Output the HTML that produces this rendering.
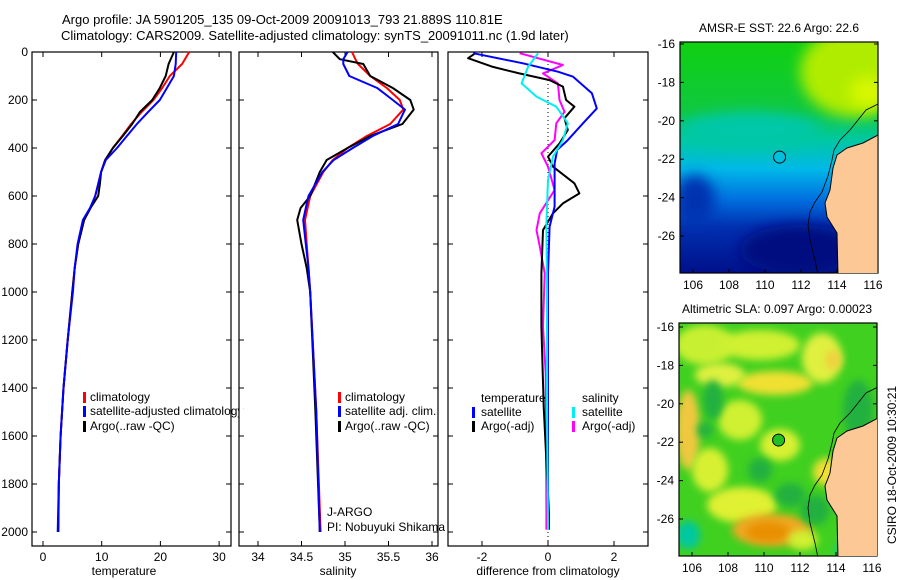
<!DOCTYPE html>
<html><head><meta charset="utf-8"><style>
html,body{margin:0;padding:0;background:#fff;}
svg{display:block;font-family:"Liberation Sans",sans-serif;}
text{font-size:12px;fill:#000;}
</style></head><body>
<svg id="fig" width="900" height="580" viewBox="0 0 900 580" xmlns="http://www.w3.org/2000/svg">
<defs>
<filter id="blur6" x="-50%" y="-50%" width="200%" height="200%"><feGaussianBlur stdDeviation="7"/></filter>
<filter id="blur3" x="-50%" y="-50%" width="200%" height="200%"><feGaussianBlur stdDeviation="4"/></filter>
<clipPath id="clipTop"><rect x="680" y="42" width="198" height="231"/></clipPath>
<clipPath id="clipBot"><rect x="679" y="323" width="198" height="233"/></clipPath>
<linearGradient id="sstGrad" x1="0" y1="0" x2="0" y2="1">
<stop offset="0" stop-color="#10d010"/><stop offset="0.3" stop-color="#10c840"/>
<stop offset="0.42" stop-color="#00c8a0"/><stop offset="0.55" stop-color="#00b8e8"/>
<stop offset="0.68" stop-color="#0070e0"/><stop offset="0.8" stop-color="#0030b0"/>
<stop offset="1" stop-color="#00108a"/></linearGradient>
</defs>
<text x="62" y="24" style="font-size:13px">Argo profile: JA 5901205_135 09-Oct-2009 20091013_793 21.889S 110.81E</text>
<text x="61" y="40" style="font-size:13px">Climatology: CARS2009. Satellite-adjusted climatology: synTS_20091011.nc (1.9d later)</text>
<g id="panels"></g>
<g id="maps"></g>
</svg>
<script>
// ---- data ----
const depthT = [0,50,100,150,200,250,300,350,400,450,500,550,600,650,700,800,900,1000,1200,1400,1600,1800,2000];
const tempClim = [24.9,23.7,21.6,20.3,18.8,16.8,15.0,13.5,11.9,10.6,9.9,9.4,8.9,8.1,7.0,6.0,5.4,5.0,4.2,3.5,3.0,2.7,2.6];
const tempSat = [22.7,22.6,22.3,21.1,19.9,17.9,16.0,14.3,12.6,10.7,9.9,9.4,8.9,8.0,6.8,5.9,5.4,5.1,4.2,3.5,3.0,2.7,2.5];
const tempArgo = [22.3,21.4,20.9,19.9,18.6,16.5,15.2,13.6,11.9,10.6,9.9,9.7,9.4,8.1,7.0,6.0,5.4,5.0,4.2,3.5,3.0,2.7,2.6];
const depthS = [0,30,50,100,150,200,240,300,350,400,450,500,600,650,700,800,900,1000,1500,2000];
const salClim = [35.08,35.12,35.15,35.29,35.48,35.63,35.67,35.52,35.25,35.03,34.86,34.75,34.60,34.57,34.54,34.56,34.58,34.60,34.67,34.72];
const salArgo = [34.86,34.94,35.21,35.29,35.55,35.75,35.79,35.66,35.29,35.03,34.79,34.71,34.60,34.49,34.45,34.50,34.56,34.60,34.66,34.71];
const salSat = [35.03,34.98,34.98,35.05,35.37,35.55,35.69,35.61,35.32,35.09,34.87,34.74,34.58,34.55,34.52,34.55,34.58,34.60,34.67,34.71];
const depthDT = [5,47,82,103,172,235,297,367,408,464,644,728,922,1144,1478,1756,1990];
const diffTSat = [-2.27,-0.76,0.3,0.76,1.33,1.48,1.06,0.6,0.28,0.2,0.2,0.05,0,0,0,0,0];
const depthDA = [5,26,61,89,117,144,200,228,276,325,381,436,478,547,589,631,672,742,922,1144,1478,1756,1922,1990];
const diffTArgo = [-2.2,-2.42,-1.7,-0.87,0.05,0.45,0.55,0.8,0.5,0.6,0.35,0,0.15,0.8,0.95,0.45,0.15,-0.15,-0.2,-0.2,-0.13,-0.03,0.03,0.03];
const depthDS = [5,61,131,186,228,297,367,436,533,714,1000,1500,1990];
const diffSSat = [-0.3,-0.6,-0.8,-0.35,0.25,0.6,0.45,0.15,0,-0.05,-0.03,-0.03,0];
const depthDM = [5,54,89,131,200,249,297,367,422,478,575,672,742,811,922,1144,1339,1894,1990];
const diffSArgo = [-0.86,0.45,-0.15,0.3,0.35,0.5,0.25,0.2,-0.2,0,0.2,-0.25,-0.35,-0.25,-0.1,-0.15,-0.07,-0.05,-0.05];
const depthTicks = [0,200,400,600,800,1000,1200,1400,1600,1800,2000];
const tempTicks = [0,10,20,30];
const salTicks = [34,34.5,35,35.5,36];
const diffTicks = [-2,0,2];
const lonTicks = [106,108,110,112,114,116];
const latTicks = [-16,-18,-20,-22,-24,-26];

const NS='http://www.w3.org/2000/svg';
const panelsG=document.getElementById('panels');
const mapsG=document.getElementById('maps');
function mk(tag,attrs,parent){const e=document.createElementNS(NS,tag);for(const k in attrs)e.setAttribute(k,attrs[k]);(parent||panelsG).appendChild(e);return e;}
const yD = d => 52 + d*0.24;
const xT = t => 43 + t*5.87;
const xS = s => 258 + (s-34)*87;
const xDf = v => 548 + v*33;

function frame(x0,x1,name,ticksX,fx,labels){
  const r=mk('rect',{x:x0,y:52,width:x1-x0,height:494,fill:'none',stroke:'#000','stroke-width':1.2});
  
  
  depthTicks.forEach(d=>{
    const t1=mk('line',{x1:x0,x2:x0+5,y1:yD(d),y2:yD(d),stroke:'#000'});
    
    
    const t2=mk('line',{x1:x1-5,x2:x1,y1:yD(d),y2:yD(d),stroke:'#000'});
    
    
  });
  ticksX.forEach(v=>{
    const x=fx(v);
    const a=mk('line',{x1:x,x2:x,y1:52,y2:57,stroke:'#000'});
    
    
    const b=mk('line',{x1:x,x2:x,y1:541,y2:546,stroke:'#000'});
    
    
    const tl=mk('text',{x:x,y:561,'text-anchor':'middle'});
    tl.textContent=labels?labels(v):String(v);
    
    
  });
}
function line(xs,ds,fx,color,name,w){
  const pts=xs.map((v,i)=>fx(v).toFixed(1)+','+yD(ds[i]).toFixed(1)).join(' ');
  const p=mk('polyline',{points:pts,fill:'none',stroke:color,'stroke-width':w||2,'stroke-linejoin':'round'});
  
  
}
function txt(x,y,s,name,extra){const t=mk('text',Object.assign({x:x,y:y},extra||{}));t.textContent=s;
  
  
  return t;}
function legMark(x,y,color,name){const r=mk('rect',{x:x,y:y-9,width:3,height:11,fill:color});
  
  }

depthTicks.forEach(d=>{txt(28,yD(d)+4,String(d),'depth-tick-label',{'text-anchor':'end'});});

// panel 1 temperature
frame(32,231,'temperature-panel',tempTicks,xT);
line(tempClim,depthT,xT,'#ff0000','temp-climatology-line');
line(tempArgo,depthT,xT,'#000000','temp-argo-line');
line(tempSat,depthT,xT,'#0000ff','temp-satellite-line');
txt(124,575,'temperature','temperature-axis-title',{'text-anchor':'middle'});
legMark(83,401,'#ff0000','legend-climatology-marker');txt(90,401,'climatology','legend-climatology');
legMark(83,415,'#0000ff','legend-satellite-marker');
txt(90,415,'satellite-adjusted climatology','legend-satellite-adjusted');
legMark(83,430,'#000','legend-argo-marker');txt(90,430,'Argo(..raw -QC)','legend-argo');
const cov=mk('rect',{x:239,y:404,width:4,height:14,fill:'#fff'});



// panel 2 salinity
frame(239,438,'salinity-panel',salTicks,xS);
line(salClim,depthS,xS,'#ff0000','sal-climatology-line');
line(salArgo,depthS,xS,'#000000','sal-argo-line');
line(salSat,depthS,xS,'#0000ff','sal-satellite-line');
txt(338,575,'salinity','salinity-axis-title',{'text-anchor':'middle'});
legMark(338,401,'#ff0000','legend2-climatology-marker');txt(345,401,'climatology','legend2-climatology');
legMark(338,415,'#0000ff','legend2-satellite-marker');txt(345,415,'satellite adj. clim.','legend2-satellite');
legMark(338,430,'#000','legend2-argo-marker');txt(345,430,'Argo(..raw -QC)','legend2-argo');
txt(327,516,'J-ARGO','pi-agency');
txt(327,531,'PI: Nobuyuki Shikama','pi-name');

// panel 3 difference
frame(448,648,'difference-panel',diffTicks,xDf);
const zl=mk('line',{x1:xDf(0),x2:xDf(0),y1:52,y2:546,stroke:'#000','stroke-dasharray':'1,3'});


line(diffSArgo,depthDM,xDf,'#ff00ff','diff-sal-argo-line');
line(diffTArgo,depthDA,xDf,'#000000','diff-temp-argo-line');
line(diffTSat,depthDT,xDf,'#0000ff','diff-temp-satellite-line');
line(diffSSat,depthDS,xDf,'#00f0f0','diff-sal-satellite-line');
txt(548,575,'difference from climatology','difference-axis-title',{'text-anchor':'middle'});
txt(481,402,'temperature','legend3-temperature-header');
legMark(472,416,'#0000ff','legend3-temp-sat-marker');txt(481,416,'satellite','legend3-temp-sat');
legMark(472,430,'#000','legend3-temp-argo-marker');txt(481,430,'Argo(-adj)','legend3-temp-argo');
txt(582,402,'salinity','legend3-salinity-header');
legMark(572,416,'#00f0f0','legend3-sal-sat-marker');txt(582,416,'satellite','legend3-sal-sat');
legMark(572,430,'#ff00ff','legend3-sal-argo-marker');txt(582,430,'Argo(-adj)','legend3-sal-argo');

// ---- maps ----
function mapFrame(x0,y0,w,h,lat16y,name){
  const lonX = l => x0+13 + (l-106)*18;
  const latY = l => lat16y + (-16-l)*19.2;
  const r=mk('rect',{x:x0,y:y0,width:w,height:h,fill:'none',stroke:'#000','stroke-width':1.2},mapsG);
  
  
  lonTicks.forEach(l=>{
    const tk=mk('line',{x1:lonX(l),x2:lonX(l),y1:y0+h,y2:y0+h-4,stroke:'#000'},mapsG);
    
    
    const t=mk('text',{x:lonX(l),y:y0+h+16,'text-anchor':'middle'},mapsG);t.textContent=String(l);
    
    
  });
  latTicks.forEach(l=>{
    const tk=mk('line',{x1:x0,x2:x0+4,y1:latY(l),y2:latY(l),stroke:'#000'},mapsG);
    
    
    const tk2=mk('line',{x1:x0+w-4,x2:x0+w,y1:latY(l),y2:latY(l),stroke:'#000'},mapsG);
    
    
    const t=mk('text',{x:x0-5,y:latY(l)+4,'text-anchor':'end'},mapsG);t.textContent=String(l);
    
    
  });
  return {lonX,latY};
}
function land(dy,clip,name){
  const pts=[[878,135],[863,143],[847,148],[837,155],[833,168],[830,190],[825,203],[827,217],[837,233],[838,275],[878,275]]
    .map(p=>p[0]+','+(p[1]+dy)).join(' ');
  const shelf=[[878,104],[866,110],[858,120],[850,130],[840,140],[834,150],[832,160],[828,176],[822,192],[815,202],[810,212],[808,225],[810,240],[815,260],[818,275]]
    .map(p=>p[0]+','+(p[1]+dy)).join(' ');
  const g=mk('g',{'clip-path':'url(#'+clip+')'},mapsG);
  
  
  mk('polyline',{points:shelf,fill:'none',stroke:'#000','stroke-width':0.8},g);
  mk('polygon',{points:pts,fill:'#fcc896',stroke:'#000','stroke-width':1},g);
}
// top map
(function(){
  const g=mk('g',{'clip-path':'url(#clipTop)'},mapsG);
  
  
  mk('rect',{x:680,y:42,width:198,height:231,fill:'url(#sstGrad)'},g);
  mk('ellipse',{cx:855,cy:72,rx:55,ry:45,fill:'#b0ec00',filter:'url(#blur6)'},g);
  mk('ellipse',{cx:868,cy:92,rx:18,ry:15,fill:'#d8f800',filter:'url(#blur6)'},g);
  mk('ellipse',{cx:750,cy:130,rx:70,ry:18,fill:'#00c8a8',filter:'url(#blur6)'},g);
  mk('ellipse',{cx:800,cy:250,rx:60,ry:25,fill:'#000c80',filter:'url(#blur6)'},g);
  mk('ellipse',{cx:695,cy:200,rx:20,ry:25,fill:'#0030b0',filter:'url(#blur6)'},g);
  const m=mapFrame(680,42,198,231,44,'sst-map');
  land(0,'clipTop','sst-map');
  const c=mk('circle',{cx:m.lonX(110.81),cy:m.latY(-21.889),r:6,fill:'#00c0e0',stroke:'#000'},mapsG);
  
  
  const t=mk('text',{x:779,y:32,'text-anchor':'middle'},mapsG);t.textContent='AMSR-E SST: 22.6 Argo: 22.6';
  
  
})();
// bottom map
(function(){
  const g=mk('g',{'clip-path':'url(#clipBot)'},mapsG);
  
  
  mk('rect',{x:679,y:323,width:198,height:233,fill:'#40d020'},g);
  const blobs=[[705,345,30,20,'#c8f030'],[760,345,40,15,'#d0f030'],[775,383,38,12,'#f0e030'],[688,430,12,40,'#f0c840'],[740,420,22,20,'#d0f030'],[822,358,20,25,'#e0f040'],[833,360,8,10,'#f0d040'],[780,445,20,16,'#d8f030'],[827,472,14,14,'#f0e030'],[742,505,35,18,'#e0f030'],[772,530,40,16,'#f0a820'],[768,532,22,10,'#e89000'],[688,535,12,14,'#00c8a0'],[870,520,20,20,'#30d020'],[710,470,18,22,'#d8f030'],[852,550,16,10,'#00d0b0'],[720,375,25,12,'#e0f040'],[803,540,15,10,'#d0f030']];
  blobs.forEach(b=>mk('ellipse',{cx:b[0],cy:b[1],rx:b[2],ry:b[3],fill:b[4],filter:'url(#blur3)'},g));
  const darks=[[713,400,10,20],[760,470,12,12],[790,495,15,12],[858,410,15,30],[815,510,15,15],[705,430,8,8]];
  darks.forEach(b=>mk('ellipse',{cx:b[0],cy:b[1],rx:b[2],ry:b[3],fill:'#20b040',filter:'url(#blur3)'},g));
  const m=mapFrame(679,323,198,233,327,'sla-map');
  land(283,'clipBot','sla-map');
  const c=mk('circle',{cx:m.lonX(110.81),cy:m.latY(-21.889),r:6,fill:'#20c020',stroke:'#000'},mapsG);
  
  
  const t=mk('text',{x:777,y:313,'text-anchor':'middle'},mapsG);t.textContent='Altimetric SLA: 0.097 Argo: 0.00023';
  
  
  const s=mk('text',{x:0,y:0,'text-anchor':'middle',transform:'translate(896,465) rotate(-90)'},mapsG);s.textContent='CSIRO 18-Oct-2009 10:30:21';
  
  
})();
</script>
</body></html>
